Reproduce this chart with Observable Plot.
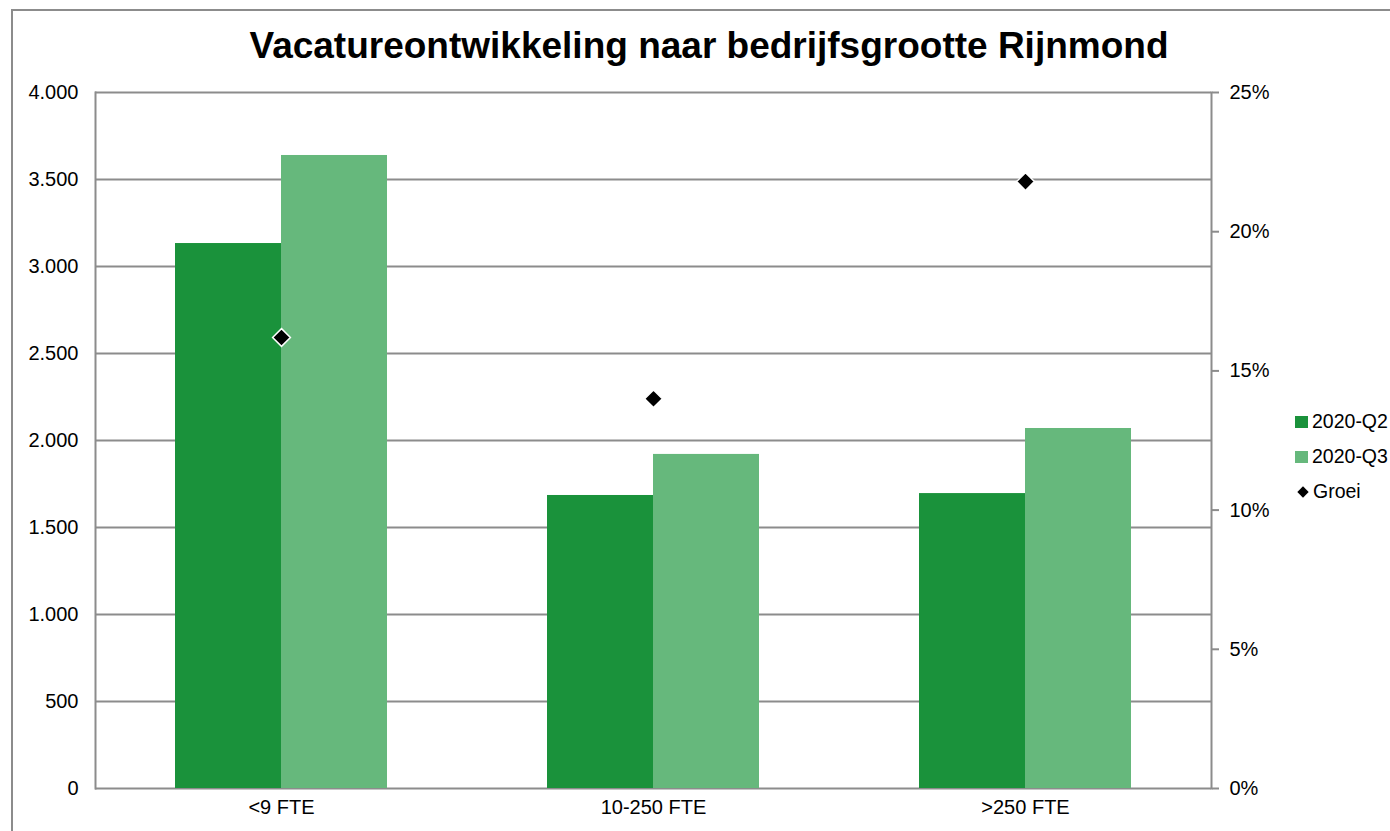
<!DOCTYPE html>
<html>
<head>
<meta charset="utf-8">
<script src="https://cdn.jsdelivr.net/npm/d3@7"></script>
<script src="https://cdn.jsdelivr.net/npm/@observablehq/plot@0.6"></script>
<style>
  html, body { margin: 0; padding: 0; background: #fff; }
  #page { position: relative; width: 1390px; height: 831px; overflow: hidden; font-family: "Liberation Sans", Arial, sans-serif; }
  #border { position: absolute; left: 11px; top: 9px; width: 1400px; height: 900px; border: 2px solid #8c8c8c; box-sizing: border-box; }
  #title { position: absolute; left: 0; width: 1418px; top: 25px; text-align: center; font-weight: bold; font-size: 37px; color: #000; white-space: nowrap; }
  #chart { position: absolute; left: 0; top: 0; }
  #legend { position: absolute; left: 1295px; top: 404px; font-size: 19.5px; color: #000; }
  .item { display: flex; align-items: center; height: 35px; }
  .sw { width: 13px; height: 12px; margin-right: 4px; }
  .dia { width: 8px; height: 8px; margin: 0 6px 0 4px; background: #000; transform: rotate(45deg); }
</style>
</head>
<body>
<div id="page">
  <div id="border"></div>
  <div id="chart"></div>
  <div id="title">Vacatureontwikkeling naar bedrijfsgrootte Rijnmond</div>
  <div id="legend"></div>
</div>
<script>
const categories = ["<9 FTE", "10-250 FTE", ">250 FTE"];
const series = ["2020-Q2", "2020-Q3"];
const q2 = [3132, 1684, 1695];
const q3 = [3638, 1920, 2069];
const groei = [16.2, 14.0, 21.8];
const groeiLabel = "Groei";
const leftTicks = [0, 500, 1000, 1500, 2000, 2500, 3000, 3500, 4000];
const rightTicks = [0, 5, 10, 15, 20, 25];
const colors = ["#1a923b", "#66b87c"];

const leftMax = 4000, rightMax = 25;
const toLeft = p => p / rightMax * leftMax;

const rows = categories.flatMap((c, i) => [
  {cat: c, series: series[0], value: q2[i]},
  {cat: c, series: series[1], value: q3[i]}
]);
const groeiRows = categories.map((c, i) => ({cat: c, groei: groei[i]}));

const fmtNL = d => d3.format(",")(d).replace(/,/g, ".");
const gridColor = "#8c8c8c";

const chart = Plot.plot({
  width: 1390,
  height: 831,
  marginLeft: 94,
  marginRight: 178,
  marginTop: 92,
  marginBottom: 43,
  style: {fontFamily: "'Liberation Sans', Arial, sans-serif", fontSize: "20px", color: "#000", background: "transparent", overflow: "visible"},
  fx: {domain: categories, paddingInner: 0, paddingOuter: 0, label: null},
  x: {domain: series, paddingInner: 0, paddingOuter: 0.75, axis: null},
  y: {domain: [0, leftMax], axis: null},
  color: {domain: series, range: colors},
  marks: [
    Plot.gridY(leftTicks, {stroke: gridColor, strokeOpacity: 1, strokeWidth: 2}),
    Plot.barY(rows, {fx: "cat", x: "series", y: "value", fill: "series"}),
    Plot.frame({anchor: "left", facetAnchor: "left", stroke: gridColor, strokeWidth: 2}),
    Plot.frame({anchor: "right", facetAnchor: "right", stroke: gridColor, strokeWidth: 2}),
    Plot.axisY({ticks: leftTicks, anchor: "left", tickSize: 0, tickPadding: 17, tickFormat: fmtNL, label: null, fontSize: 20}),
    Plot.axisY({ticks: rightTicks.map(toLeft), anchor: "right", tickSize: 7, tickPadding: 11, stroke: gridColor, strokeWidth: 2, fontSize: 20,
      tickFormat: d => Math.round(d / leftMax * rightMax) + "%", label: null}),
    Plot.axisFx({anchor: "bottom", tickSize: 0, tickPadding: 11, label: null, fontSize: 20}),
    Plot.dot(groeiRows, {fx: "cat", y: d => toLeft(d.groei), symbol: "diamond2", fill: "#000", stroke: "#fff", strokeWidth: 1.5, r: 8})
  ]
});
document.getElementById("chart").appendChild(chart);

const legend = document.getElementById("legend");
series.forEach((s, i) => {
  const it = document.createElement("div");
  it.className = "item";
  it.innerHTML = `<div class="sw" style="background:${colors[i]}"></div><span>${s}</span>`;
  legend.appendChild(it);
});
const g = document.createElement("div");
g.className = "item";
g.innerHTML = `<div class="dia"></div><span>${groeiLabel}</span>`;
legend.appendChild(g);
</script>
</body>
</html>
